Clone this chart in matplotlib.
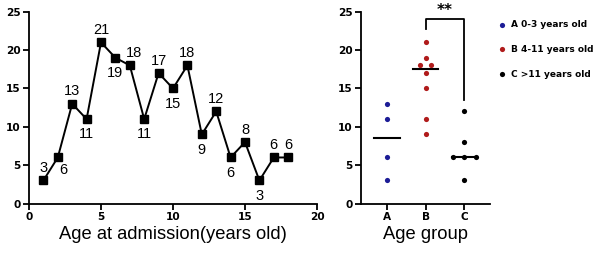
import matplotlib
matplotlib.use("Agg")
import matplotlib.pyplot as plt
import numpy as np

plt.rcParams['font.family'] = ['Liberation Sans', 'DejaVu Sans']

# ---- data ----
ages = list(range(1, 19))
counts = [3, 6, 13, 11, 21, 19, 18, 11, 17, 15, 18, 9, 12, 6, 8, 3, 6, 6]
label_pos = ['above', 'belowright', 'above', 'below', 'above', 'below', 'aboveright', 'below',
             'above', 'below', 'above', 'below', 'above', 'below', 'above', 'below', 'above', 'above']

groups = ['A', 'B', 'C']
group_labels = ['A 0-3 years old', 'B 4-11 years old', 'C >11 years old']
group_colors = ['#1c1c96', '#b01b1b', '#000000']
group_A = [13, 11, 6, 3]
group_B = [21, 19, 18, 18, 17, 15, 11, 9]
group_C = [12, 8, 6, 6, 6, 3]
group_vals = [group_A, group_B, group_C]
sig_text = '**'

BOLD = dict(family='DejaVu Sans', weight='bold')

fig = plt.figure(figsize=(6.0, 2.59), dpi=100)

# ---- left: line chart ----
ax1 = fig.add_axes([29/600, 1 - 203.5/259, 288/600, 191.8/259])
ax1.plot(ages, counts, color='black', lw=1.4, marker='s', ms=5.5, zorder=3, clip_on=False)
for x, y, p in zip(ages, counts, label_pos):
    if p == 'above':
        ax1.annotate(str(y), (x, y), xytext=(0, 4), textcoords='offset points',
                     ha='center', va='bottom', fontsize=10.5)
    elif p == 'aboveright':
        ax1.annotate(str(y), (x, y), xytext=(3, 4), textcoords='offset points',
                     ha='center', va='bottom', fontsize=10.5)
    elif p == 'belowright':
        ax1.annotate(str(y), (x, y), xytext=(4, -4), textcoords='offset points',
                     ha='center', va='top', fontsize=10.5)
    else:
        ax1.annotate(str(y), (x, y), xytext=(0, -6), textcoords='offset points',
                     ha='center', va='top', fontsize=10.5)
ax1.set_xlim(0, 20)
ax1.set_ylim(0, 25)
ax1.set_xticks([0, 5, 10, 15, 20])
ax1.set_yticks([0, 5, 10, 15, 20, 25])
ax1.set_xlabel('Age at admission(years old)', fontsize=13.2, labelpad=3)

# ---- right: dot plot ----
ax2 = fig.add_axes([360.7/600, 1 - 203.5/259, (490 - 360.7)/600, 191.8/259])
spacing = 0.29
for i, (vals, col, lab) in enumerate(zip(group_vals, group_colors, group_labels)):
    xs, ys = [], []
    uniq = sorted(set(vals), reverse=True)
    for u in uniq:
        n = vals.count(u)
        offs = (np.arange(n) - (n - 1) / 2) * spacing
        xs.extend(i + 1 + offs)
        ys.extend([u] * n)
    ax2.scatter(xs, ys, s=14, color=col, zorder=3, label=lab, clip_on=False, linewidths=0)
    med = np.median(vals)
    ax2.plot([i + 1 - 0.33, i + 1 + 0.33], [med, med], color='black', lw=1.5, zorder=2)

ax2.plot([2, 2, 3, 3], [22.7, 24, 24, 13.5], color='black', lw=1.3, clip_on=False)
ax2.text(2.5, 24.2, sig_text, ha='center', va='bottom', fontsize=11, **BOLD)
ax2.set_xlim(0.33, 3.66)
ax2.set_ylim(0, 25)
ax2.set_xticks([1, 2, 3])
ax2.set_xticklabels(groups)
ax2.set_yticks([0, 5, 10, 15, 20, 25])
ax2.set_xlabel('Age group', fontsize=13.2, labelpad=3)

for ax in (ax1, ax2):
    for s in ('top', 'right'):
        ax.spines[s].set_visible(False)
    for s in ('left', 'bottom'):
        ax.spines[s].set_linewidth(1.3)
    ax.tick_params(width=1.3, length=4, labelsize=7.6, pad=2)
    for t in ax.get_xticklabels() + ax.get_yticklabels():
        t.set_fontweight('bold')
        t.set_family('DejaVu Sans')

handles, labels = ax2.get_legend_handles_labels()
leg = fig.legend(handles, labels, loc='upper left', bbox_to_anchor=(497/600, 1 - 20/259),
                 frameon=False, prop=dict(family='DejaVu Sans', weight='bold', size=6.5),
                 handletextpad=0.5, labelspacing=1.75,
                 handlelength=1.0, borderaxespad=0, borderpad=0)

fig.savefig('out.png', dpi=100)
